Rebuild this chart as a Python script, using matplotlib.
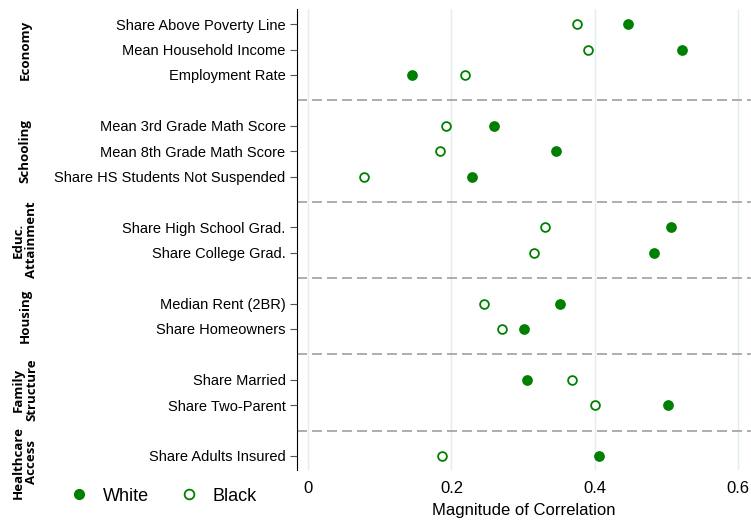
import matplotlib
matplotlib.use("Agg")
import matplotlib.pyplot as plt
from matplotlib.lines import Line2D

plt.rcParams['font.family'] = ['Liberation Sans', 'DejaVu Sans']

labels = ["Share Above Poverty Line", "Mean Household Income", "Employment Rate",
          "Mean 3rd Grade Math Score", "Mean 8th Grade Math Score", "Share HS Students Not Suspended",
          "Share High School Grad.", "Share College Grad.",
          "Median Rent (2BR)", "Share Homeowners",
          "Share Married", "Share Two-Parent",
          "Share Adults Insured"]
white = [0.446, 0.522, 0.145, 0.259, 0.346, 0.228, 0.506, 0.483, 0.352, 0.301, 0.305, 0.502, 0.406]
black = [0.375, 0.391, 0.219, 0.193, 0.184, 0.078, 0.331, 0.315, 0.246, 0.271, 0.368, 0.401, 0.187]
groups = ["Economy", "Schooling", "Educ.\nAttainment", "Housing", "Family\nStructure", "Healthcare\nAccess"]
group_sizes = [3, 3, 2, 2, 2, 1]

pos = []
seps = []
centers = []
p = 0
for gi, n in enumerate(group_sizes):
    start = p
    for _ in range(n):
        pos.append(p); p += 1
    centers.append((start + p - 1) / 2)
    if gi < len(group_sizes) - 1:
        seps.append(p); p += 1
label_centers = list(centers)
label_centers[4] = centers[4] - 0.1
label_centers[5] = centers[5] + 0.25

green = "#008000"
fig = plt.figure(figsize=(7.51, 5.21), dpi=100)
ax = fig.add_axes([0.396, 0.098, 0.604, 0.885])
ax.set_xlim(-0.015, 0.618)
ax.set_ylim(pos[-1] + 0.55, -0.6)
for x in [0, 0.2, 0.4, 0.6]:
    ax.axvline(x, color="#e3ecee", lw=1, zorder=0)
for s in seps:
    ax.axhline(s, color="#a0a0a0", lw=1.2, ls=(0, (6, 3)), xmin=0, xmax=1, clip_on=False)
ax.scatter(white, pos, s=45, color=green, zorder=3)
ax.scatter(black, pos, s=40, facecolor="white", edgecolor=green, lw=1.3, zorder=3)
ax.set_yticks(pos)
ax.set_yticklabels(labels, fontsize=10.5)
ax.set_xticks([0, 0.2, 0.4, 0.6])
ax.set_xticklabels(["0", "0.2", "0.4", "0.6"], fontsize=12)
ax.tick_params(axis='x', length=0, pad=8)
ax.tick_params(axis='y', length=5, color="#555555")
for sp in ["top", "right", "bottom"]:
    ax.spines[sp].set_visible(False)
ax.set_xlabel("Magnitude of Correlation", fontsize=12, labelpad=5)

for g, c in zip(groups, label_centers):
    yf = ax.transData.transform((0, c))[1]
    yfig = fig.transFigure.inverted().transform((0, yf))[1]
    fig.text(0.033, yfig, g, rotation=90, ha="center", va="center",
             fontsize=9.5, fontweight="bold", family=["Open Sans", "DejaVu Sans"], linespacing=1.05)

h = [Line2D([], [], marker='o', ls='', color=green, ms=7),
     Line2D([], [], marker='o', ls='', mfc='white', mec=green, mew=1.3, ms=7)]
fig.legend(h, ["White", "Black"], loc="lower left", bbox_to_anchor=(0.06, 0.0), ncol=2,
           frameon=False, fontsize=13, handletextpad=0.3, columnspacing=1.2)
fig.savefig("out.png", dpi=100)
